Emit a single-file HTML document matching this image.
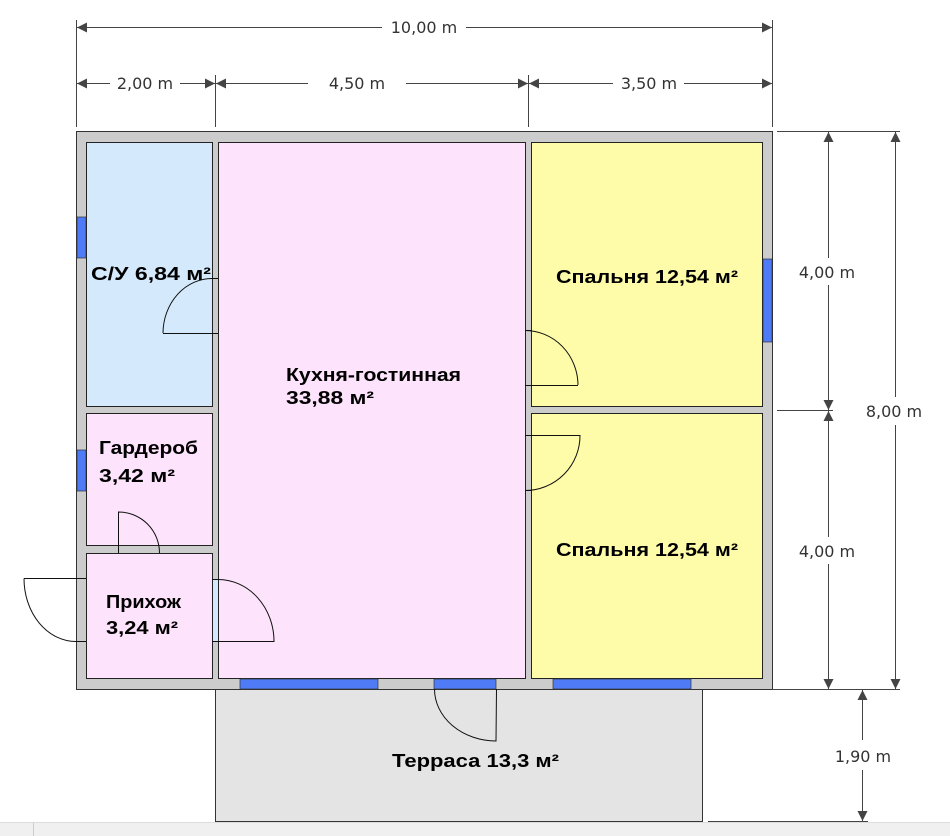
<!DOCTYPE html>
<html><head><meta charset="utf-8"><style>
html,body{margin:0;padding:0;background:#fff;width:950px;height:836px;overflow:hidden}
svg{display:block}
.l{font-family:"Liberation Sans","DejaVu Sans",sans-serif;font-weight:bold;font-size:18px;fill:#000}
.d{font-family:"DejaVu Sans","Liberation Sans",sans-serif;font-size:16px;fill:#333}
</style></head><body>
<svg width="950" height="836" viewBox="0 0 950 836" xmlns="http://www.w3.org/2000/svg">
<defs>
<marker id="a" viewBox="0 0 10 10" refX="10" refY="5" markerWidth="14" markerHeight="10" markerUnits="userSpaceOnUse" orient="auto-start-reverse"><path d="M0,0L10,5L0,10z" fill="#444"/></marker>
</defs>
<rect x="0" y="822" width="950" height="14" fill="#f0f0f0"/>
<line x1="0" y1="822.5" x2="950" y2="822.5" stroke="#ddd"/>
<line x1="33.5" y1="823" x2="33.5" y2="836" stroke="#ccc"/>
<rect x="215.5" y="689.5" width="487" height="132" fill="#e4e4e4" stroke="#333"/>
<rect x="76.5" y="131.5" width="696" height="558" fill="#cccccc" stroke="#333"/>
<rect x="86.5" y="142.5" width="126" height="264" fill="#d4e9fb" stroke="#222"/>
<rect x="86.5" y="413.5" width="126" height="132" fill="#fde3fb" stroke="#222"/>
<rect x="86.5" y="553.5" width="126" height="125" fill="#fde3fb" stroke="#222"/>
<rect x="218.5" y="142.5" width="307" height="536" fill="#fde3fb" stroke="#222"/>
<rect x="531.5" y="142.5" width="231" height="264" fill="#fefca8" stroke="#222"/>
<rect x="531.5" y="413.5" width="231" height="265" fill="#fefca8" stroke="#222"/>
<g fill="#4f7cf6" stroke="#333" stroke-width="0.7">
<rect x="77" y="217" width="9" height="41"/>
<rect x="77" y="450" width="9" height="41"/>
<rect x="763" y="259" width="9" height="83"/>
<rect x="240" y="679" width="138" height="10"/>
<rect x="434" y="679" width="62" height="10"/>
<rect x="553" y="679" width="138" height="10"/>
</g>
<rect x="213" y="580" width="5" height="61" fill="#d4e9fb"/>
<g fill="none" stroke="#111" stroke-width="1">
<path d="M163,333.5 L218,333.5 M212,278.5 L218,278.5 M163,333 A49,55 0 0 1 212,278.5"/>
<path d="M525,385.5 L578,385.5 M525,330.5 L531,330.5 M578,385 A53,55 0 0 0 525,330.5"/>
<path d="M525,435.5 L580,435.5 M580,435 A55,55 0 0 1 525,490.5 L531,490.5"/>
<path d="M118.5,553 L118.5,512 A41,41 0 0 1 159.5,553"/>
<path d="M24,578.5 L86,578.5 M24,578.5 A52,63 0 0 0 76,641.5 L86,641.5"/>
<path d="M212,579.5 L218,579.5 A56,62 0 0 1 274,641.5 L212,641.5"/>
<path d="M434.5,689 A62,52 0 0 0 496,741 L496.5,689"/>
</g>
<text class="l" x="91" y="280" textLength="120" lengthAdjust="spacingAndGlyphs">С/У 6,84 м²</text>
<text class="l" x="286" y="381" textLength="175" lengthAdjust="spacingAndGlyphs">Кухня-гостинная</text>
<text class="l" x="286" y="404" textLength="88" lengthAdjust="spacingAndGlyphs">33,88 м²</text>
<text class="l" x="556" y="283" textLength="182" lengthAdjust="spacingAndGlyphs">Спальня 12,54 м²</text>
<text class="l" x="556" y="556" textLength="182" lengthAdjust="spacingAndGlyphs">Спальня 12,54 м²</text>
<text class="l" x="99" y="454" textLength="99" lengthAdjust="spacingAndGlyphs">Гардероб</text>
<text class="l" x="99" y="482" textLength="76" lengthAdjust="spacingAndGlyphs">3,42 м²</text>
<text class="l" x="106" y="608" textLength="75" lengthAdjust="spacingAndGlyphs">Прихож</text>
<text class="l" x="106" y="634" textLength="72" lengthAdjust="spacingAndGlyphs">3,24 м²</text>
<text class="l" x="392" y="767" textLength="167" lengthAdjust="spacingAndGlyphs">Терраса 13,3 м²</text>
<g stroke="#444" stroke-width="1" fill="none">
<line x1="76.5" y1="20" x2="76.5" y2="127"/>
<line x1="215.5" y1="75" x2="215.5" y2="127"/>
<line x1="528.5" y1="75" x2="528.5" y2="127"/>
<line x1="772.5" y1="20" x2="772.5" y2="127"/>
<line x1="77" y1="27.5" x2="382" y2="27.5" marker-start="url(#a)"/>
<line x1="466" y1="27.5" x2="772" y2="27.5" marker-end="url(#a)"/>
<line x1="77" y1="83.5" x2="110" y2="83.5" marker-start="url(#a)"/>
<line x1="180" y1="83.5" x2="215" y2="83.5" marker-end="url(#a)"/>
<line x1="216" y1="83.5" x2="308" y2="83.5" marker-start="url(#a)"/>
<line x1="406" y1="83.5" x2="528" y2="83.5" marker-end="url(#a)"/>
<line x1="529" y1="83.5" x2="613" y2="83.5" marker-start="url(#a)"/>
<line x1="684" y1="83.5" x2="772" y2="83.5" marker-end="url(#a)"/>
<line x1="777" y1="131.5" x2="900" y2="131.5"/>
<line x1="777" y1="410.5" x2="833" y2="410.5"/>
<line x1="772" y1="689.5" x2="900" y2="689.5"/>
<line x1="708" y1="821.5" x2="868" y2="821.5"/>
<line x1="828.5" y1="132" x2="828.5" y2="258" marker-start="url(#a)"/>
<line x1="828.5" y1="285" x2="828.5" y2="410" marker-end="url(#a)"/>
<line x1="828.5" y1="411" x2="828.5" y2="537" marker-start="url(#a)"/>
<line x1="828.5" y1="564" x2="828.5" y2="689" marker-end="url(#a)"/>
<line x1="895.5" y1="132" x2="895.5" y2="397" marker-start="url(#a)"/>
<line x1="895.5" y1="425" x2="895.5" y2="689" marker-end="url(#a)"/>
<line x1="862.5" y1="690" x2="862.5" y2="740" marker-start="url(#a)"/>
<line x1="862.5" y1="770" x2="862.5" y2="821" marker-end="url(#a)"/>
</g>
<text class="d" x="424" y="33" text-anchor="middle">10,00 m</text>
<text class="d" x="145" y="89" text-anchor="middle">2,00 m</text>
<text class="d" x="357" y="89" text-anchor="middle">4,50 m</text>
<text class="d" x="649" y="89" text-anchor="middle">3,50 m</text>
<text class="d" x="827" y="278" text-anchor="middle">4,00 m</text>
<text class="d" x="827" y="557" text-anchor="middle">4,00 m</text>
<text class="d" x="894" y="417" text-anchor="middle">8,00 m</text>
<text class="d" x="863" y="762" text-anchor="middle">1,90 m</text>
</svg>
</body></html>
